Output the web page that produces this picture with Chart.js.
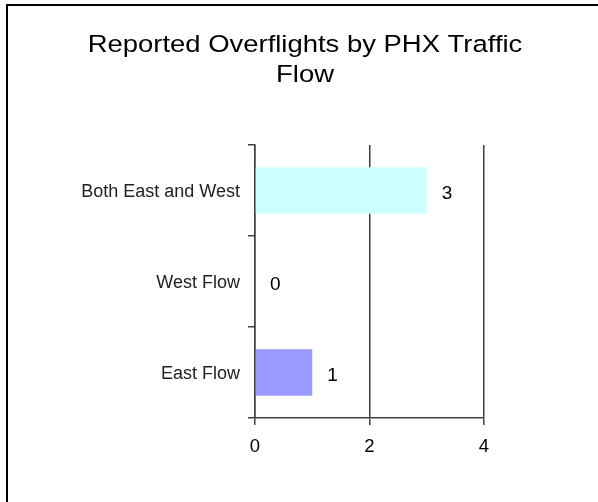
<!DOCTYPE html>
<html>
<head>
<meta charset="utf-8">
<script src="https://cdn.jsdelivr.net/npm/chart.js@4/dist/chart.umd.min.js"></script>
<style>
html,body{margin:0;padding:0;background:#fff;}
#wrap{width:598px;height:502px;position:relative;}
</style>
</head>
<body>
<div id="wrap"><canvas id="c" width="598" height="502"></canvas></div>
<script>
const titleLines = ['Reported Overflights by PHX Traffic', 'Flow'];
const categories = ['Both East and West', 'West Flow', 'East Flow'];
const values = [3, 0, 1];
const barColors = ['#CCFFFF', '#FFFFFF', '#9999FF'];
const xTicks = [0, 2, 4];

const FONT = "'Liberation Sans', Arial, sans-serif";
const AXIS = '#404040';

const frame = {
  id: 'frame',
  beforeDraw(chart) {
    const ctx = chart.ctx;
    ctx.save();
    ctx.fillStyle = '#fff';
    ctx.fillRect(0, 0, chart.width, chart.height);
    ctx.strokeStyle = '#000';
    ctx.lineWidth = 2;
    ctx.beginPath();
    ctx.moveTo(7, chart.height);
    ctx.lineTo(7, 5);
    ctx.lineTo(chart.width, 5);
    ctx.stroke();
    ctx.restore();
  },
  afterDraw(chart) {
    const ctx = chart.ctx;
    ctx.save();
    ctx.fillStyle = '#000';
    ctx.font = '24.5px ' + FONT;
    ctx.textAlign = 'center';
    ctx.textBaseline = 'alphabetic';
    const cx = 305, sx = 1.12;
    const baselines = [52, 82];
    titleLines.forEach((t, i) => {
      ctx.save();
      ctx.translate(cx, baselines[i]);
      ctx.scale(sx, 1);
      ctx.fillText(t, 0, 0);
      ctx.restore();
    });
    ctx.restore();
  }
};

const valueLabels = {
  id: 'valueLabels',
  afterDatasetsDraw(chart) {
    const ctx = chart.ctx;
    const meta = chart.getDatasetMeta(0);
    ctx.save();
    ctx.font = '19px ' + FONT;
    ctx.fillStyle = '#000';
    ctx.textAlign = 'left';
    ctx.textBaseline = 'middle';
    meta.data.forEach((bar, i) => {
      ctx.fillText(String(chart.data.datasets[0].data[i]), bar.x + 15, bar.y + 3);
    });
    ctx.restore();
  }
};

new Chart(document.getElementById('c'), {
  type: 'bar',
  data: {
    labels: categories,
    datasets: [{
      data: values,
      backgroundColor: barColors,
      borderWidth: 0,
      categoryPercentage: 1,
      barPercentage: 0.51
    }]
  },
  options: {
    indexAxis: 'y',
    responsive: false,
    animation: false,
    devicePixelRatio: 1,
    layout: { padding: { top: 145, right: 114, left: 0, bottom: 0 } },
    plugins: {
      legend: { display: false },
      tooltip: { enabled: false },
      title: { display: false }
    },
    scales: {
      x: {
        type: 'linear',
        min: 0,
        max: 4,
        afterBuildTicks(scale) { scale.ticks = xTicks.map(v => ({ value: v })); },
        afterFit(scale) { scale.height = 84; },
        border: { display: true, color: AXIS, width: 1.5 },
        grid: {
          display: true,
          drawOnChartArea: true,
          drawTicks: true,
          tickLength: 7,
          color: AXIS,
          lineWidth: 1.5
        },
        ticks: {
          color: '#000',
          padding: 11,
          font: { family: FONT, size: 18.5 },
          maxRotation: 0
        }
      },
      y: {
        type: 'category',
        offset: true,
        afterFit(scale) { scale.width = 255; },
        border: { display: true, color: AXIS, width: 1.5 },
        grid: {
          display: true,
          offset: true,
          drawOnChartArea: false,
          drawTicks: true,
          tickLength: 7,
          color: AXIS,
          lineWidth: 1.5
        },
        ticks: {
          color: '#222',
          padding: 8,
          labelOffset: 2,
          font: { family: FONT, size: 18 }
        }
      }
    }
  },
  plugins: [frame, valueLabels]
});
</script>
</body>
</html>
